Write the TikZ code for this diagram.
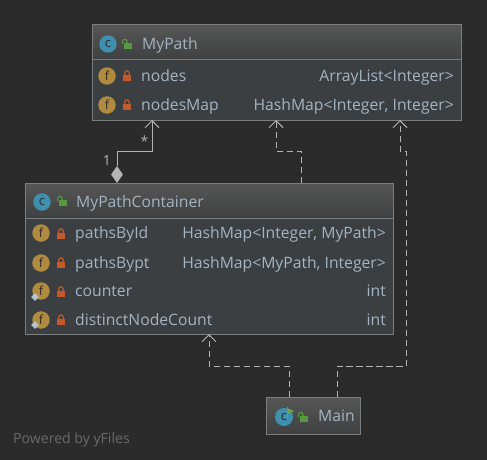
\documentclass[tikz,border=0pt]{standalone}
\usepackage{fontspec}
\setmainfont{Open Sans}
\usetikzlibrary{arrows.meta,shapes.geometric,calc}

\definecolor{canvasgray}{HTML}{2B2B2B}
\definecolor{bodygray}{HTML}{3B3F42}
\definecolor{headtop}{HTML}{565656}
\definecolor{headbot}{HTML}{3F4041}
\definecolor{edgegray}{HTML}{7B7D7E}
\definecolor{linegray}{HTML}{B4B4B4}
\definecolor{textblue}{HTML}{A4B4C2}
\definecolor{iconblue}{HTML}{3F8FAE}
\definecolor{iconbrown}{HTML}{B08A3E}
\definecolor{lockred}{HTML}{C4592B}
\definecolor{lockgreen}{HTML}{57993F}

\tikzset{
  label/.style={text=textblue, inner sep=0pt, text height=11pt, text depth=0pt, font=\fontsize{15.7}{17}\selectfont},
  classicon/.style={circle, fill=iconblue, minimum size=17.5pt, inner sep=0pt, text=canvasgray, font=\fontsize{13}{13}\selectfont},
  fieldicon/.style={circle, fill=iconbrown, minimum size=17.5pt, inner sep=0pt, text=canvasgray, font=\fontsize{12.5}{13}\selectfont},
  gear/.style={diamond, fill=textblue!80!white, minimum size=8pt, inner sep=0pt},
  closedlock/.pic={
    \fill[lockred] (-4,-1) rectangle (4,5);
    \draw[lockred, line width=1.2pt] (-2.2,-1) -- (-2.2,-3) arc (180:360:2.2) -- (2.2,-1);
  },
  openlock/.pic={
    \fill[lockgreen] (-1,-2) rectangle (7,4);
    \draw[lockgreen, line width=1.2pt] (2,-2) -- (2,-3.5) arc (0:-180:2.2) -- (-2.4,-1);
  },
  link/.style={linegray, line width=1pt},
  realize/.style={link, dash pattern=on 6.5pt off 3.5pt, -{Straight Barb[length=7pt,width=14pt]}},
  plainlink/.style={link, -{Straight Barb[length=7pt,width=14pt]}},
}

\begin{document}
\begin{tikzpicture}[x=1pt, y=-1pt]

\fill[canvasgray] (0,0) rectangle (487,460);
\useasboundingbox (0,0) rectangle (487,460);

% MyPath
 \fill[bodygray] (92,60) rectangle (461,120);
 \shade[top color=headtop, bottom color=headbot] (92,25) rectangle (461,60);
 \draw[edgegray, line width=1pt] (92,60) -- (461,60);
 \draw[edgegray, line width=1pt] (92,25) rectangle (461,120);
 \node[classicon] (pathC) at (108,44) {c};
 \pic at (125,45) {openlock};
 \node[label, anchor=west] (pathT) at (142,44) {MyPath};
 \node[fieldicon] (f1) at (107,76) {f};
 \pic at (127,76) {closedlock};
 \node[label, anchor=west] (n1) at (141,76) {nodes};
 \node[label, anchor=east] (t1) at (454,76) {ArrayList<Integer>};
 \node[fieldicon] (f2) at (107,105) {f};
 \pic at (127,105) {closedlock};
 \node[label, anchor=west] (n2) at (141,105) {nodesMap};
 \node[label, anchor=east] (t2) at (454,105) {HashMap<Integer, Integer>};

% MyPathContainer
 \fill[bodygray] (25.5,218) rectangle (393,334);
 \shade[top color=headtop, bottom color=headbot] (25.5,183) rectangle (393,218);
 \draw[edgegray, line width=1pt] (25.5,218) -- (393,218);
 \draw[edgegray, line width=1pt] (25.5,183) rectangle (393,334);
 \node[classicon] (contC) at (42,202) {c};
 \pic at (60,202) {openlock};
 \node[label, anchor=west] (contT) at (76,202) {MyPathContainer};
 \node[fieldicon] (f3) at (41,233) {f};
 \pic at (61,234) {closedlock};
 \node[label, anchor=west] (n3) at (75,233) {pathsById};
 \node[label, anchor=east] (t3) at (386,233) {HashMap<Integer, MyPath>};
 \node[fieldicon] (f4) at (41,263) {f};
 \pic at (61,263) {closedlock};
 \node[label, anchor=west] (n4) at (75,263) {pathsBypt};
 \node[label, anchor=east] (t4) at (386,263) {HashMap<MyPath, Integer>};
 \node[fieldicon] (f5) at (41,291) {f};
 \node[gear] (g5) at (35,297) {};
 \pic at (61,292) {closedlock};
 \node[label, anchor=west] (n5) at (75,291) {counter};
 \node[label, anchor=east] (t5) at (386,291) {int};
 \node[fieldicon] (f6) at (41,320) {f};
 \node[gear] (g6) at (35,325) {};
 \pic at (61,320) {closedlock};
 \node[label, anchor=west] (n6) at (75,320) {distinctNodeCount};
 \node[label, anchor=east] (t6) at (386,320) {int};

% Main
 \shade[top color=headtop, bottom color=headbot] (266,397) rectangle (360,434);
 \draw[edgegray, line width=1pt] (266,397) rectangle (360,434);
 \node[classicon, minimum size=18pt] (mainC) at (284,417) {c};
 \fill[lockgreen!90!white] (287,408) -- (294,411) -- (288,414) -- cycle;
 \draw[lockgreen!90!white, line width=1pt] (287,407) -- (287,417);
 \pic at (301,418) {openlock};
 \node[label, anchor=west] (mainT) at (318,416) {Main};

% Footer
 \node[inner sep=0pt, anchor=west, text=gray!75!canvasgray, font=\fontsize{14.1}{15}\selectfont] (yf) at (13,440) {Powered by yFiles};

% Arrows
 \node[diamond, fill=linegray, inner sep=0pt, minimum width=12pt, minimum height=17pt] (own) at (117,174.5) {};
 \coordinate (a1) at (152,120);
 \coordinate (b1) at (276,120);
 \coordinate (c1) at (400,120);
 \coordinate (d1) at (209,334);
 \coordinate (b2) at (301,183);
 \coordinate (c2) at (337,397);
 \coordinate (d2) at (289,397);
 \draw[plainlink] (own.north) -- (117,151) -- (152,151) -- (a1);
 \draw[realize] (b2) -- (301,151) -- (276,151) -- (b1);
 \draw[realize] (c2) -- (337,366) -- (406,366) -- (406,151) -- (400,151) -- (c1);
 \draw[realize] (d2) -- (289,366) -- (209,366) -- (d1);
 \node[inner sep=0pt, text=linegray, font=\fontsize{14}{14}\selectfont] (mulA) at (144.5,141) {*};
 \node[inner sep=0pt, text=linegray, font=\fontsize{14}{14}\selectfont] (mulB) at (107,161) {1};

\end{tikzpicture}
\end{document}
